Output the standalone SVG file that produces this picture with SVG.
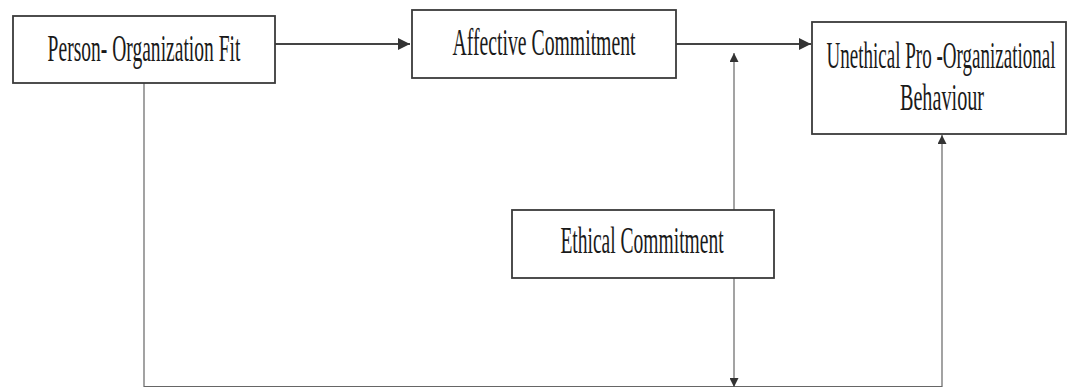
<svg xmlns="http://www.w3.org/2000/svg" width="1067" height="388" viewBox="0 0 1067 388">
<style>
.box{fill:#fff;stroke:#3a3a3a;stroke-width:1.8}
.lbl{font-family:"Liberation Serif","Times New Roman",serif;font-size:38px;fill:#1a1a1a;text-anchor:middle}
.main{stroke:#444;stroke-width:2;fill:none}
.thin{stroke:#666;stroke-width:1.2;fill:none}
</style>
<defs>
<marker id="ah" viewBox="0 0 10 10" refX="10" refY="5" markerWidth="14" markerHeight="12" markerUnits="userSpaceOnUse" orient="auto"><path d="M0,0 L10,5 L0,10 Z" fill="#333"/></marker>
<marker id="ahs" viewBox="0 0 10 10" refX="10" refY="5" markerWidth="15" markerHeight="9" markerUnits="userSpaceOnUse" orient="auto"><path d="M0,0 L10,5 L0,10 Z" fill="#333"/></marker>
</defs>
<rect width="1067" height="388" fill="#fff"/>
<g id="connectors">
<line class="main" x1="275" y1="44" x2="410" y2="44" marker-end="url(#ah)"/>
<line class="main" x1="676" y1="44" x2="811" y2="44" marker-end="url(#ah)"/>
<polyline class="thin" points="144,83 144,386.5 942,386.5 942,135" marker-end="url(#ahs)"/>
<line class="thin" x1="734" y1="210" x2="734" y2="53" marker-end="url(#ahs)"/>
<line class="thin" x1="734" y1="278" x2="734" y2="387" marker-end="url(#ahs)"/>
</g>
<g id="person-org-fit">
<rect class="box" x="13" y="16" width="262" height="67"/>
<text class="lbl" transform="translate(144 61) scale(0.51 1)" textLength="378" lengthAdjust="spacingAndGlyphs">Person- Organization Fit</text>
</g>
<g id="affective-commitment">
<rect class="box" x="412" y="10" width="264" height="68"/>
<text class="lbl" transform="translate(544 55) scale(0.51 1)" textLength="359" lengthAdjust="spacingAndGlyphs">Affective Commitment</text>
</g>
<g id="unethical-pob">
<rect class="box" x="812" y="22" width="254" height="112"/>
<text class="lbl" transform="translate(941 68) scale(0.51 1)" textLength="449" lengthAdjust="spacingAndGlyphs">Unethical Pro -Organizational</text>
<text class="lbl" transform="translate(942 110) scale(0.51 1)" textLength="165" lengthAdjust="spacingAndGlyphs">Behaviour</text>
</g>
<g id="ethical-commitment">
<rect class="box" x="512" y="210" width="262" height="68"/>
<text class="lbl" transform="translate(642 253) scale(0.51 1)" textLength="320" lengthAdjust="spacingAndGlyphs">Ethical Commitment</text>
</g>
</svg>
